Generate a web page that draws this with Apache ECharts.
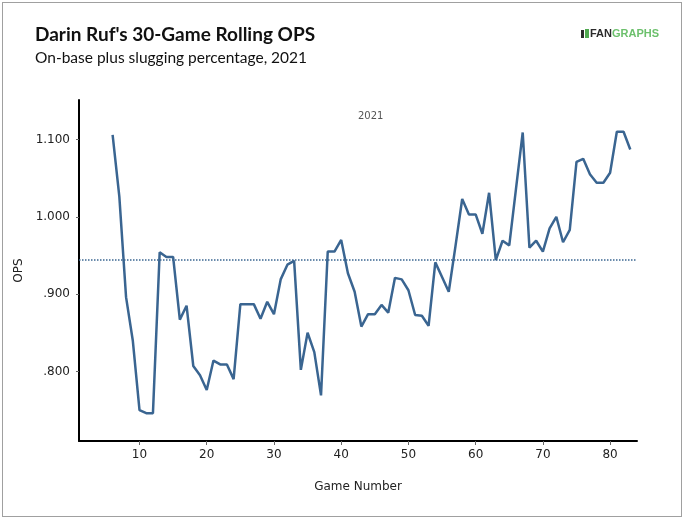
<!DOCTYPE html>
<html>
<head>
<meta charset="utf-8">
<title>Darin Ruf's 30-Game Rolling OPS</title>
<script src="https://cdn.jsdelivr.net/npm/echarts@6/dist/echarts.min.js"></script>
<style>
  html, body { margin: 0; padding: 0; background: #fff; }
  #frame {
    position: absolute; left: 2px; top: 2px; width: 680px; height: 515px;
    border: 1px solid #a0a0a0; box-sizing: border-box;
  }
  #chart { position: absolute; left: 0; top: 0; width: 685px; height: 521px; }
</style>
</head>
<body>
<div id="frame"></div>
<div id="chart"></div>
<script>
// game number of each rolling window (games 6 - 83)
var games = [
  6, 7, 8, 9, 10, 11, 12, 13, 14, 15, 16, 17, 18, 19, 20, 21, 22, 23, 24, 25,
  26, 27, 28, 29, 30, 31, 32, 33, 34, 35, 36, 37, 38, 39, 40, 41, 42, 43, 44, 45,
  46, 47, 48, 49, 50, 51, 52, 53, 54, 55, 56, 57, 58, 59, 60, 61, 62, 63, 64, 65,
  66, 67, 68, 69, 70, 71, 72, 73, 74, 75, 76, 77, 78, 79, 80, 81, 82, 83
];
// 30-game rolling OPS
var ops = [
  1.106, 1.026, 0.896, 0.840, 0.750, 0.746, 0.746, 0.954, 0.948, 0.948,
  0.867, 0.885, 0.807, 0.795, 0.776, 0.814, 0.809, 0.809, 0.790, 0.887,
  0.887, 0.887, 0.868, 0.890, 0.874, 0.919, 0.938, 0.943, 0.802, 0.850,
  0.825, 0.769, 0.955, 0.955, 0.970, 0.927, 0.903, 0.858, 0.874, 0.874,
  0.886, 0.876, 0.921, 0.919, 0.905, 0.873, 0.872, 0.859, 0.941, 0.922,
  0.903, 0.962, 1.023, 1.003, 1.003, 0.978, 1.031, 0.944, 0.969, 0.963,
  1.036, 1.109, 0.960, 0.969, 0.955, 0.985, 1.000, 0.967, 0.983, 1.071,
  1.075, 1.055, 1.044, 1.044, 1.057, 1.110, 1.110, 1.087
];
// season OPS (dotted reference line)
var seasonOps = 0.945;

var yTicks = [0.8, 0.9, 1.0, 1.1];
var xTicks = [10, 20, 30, 40, 50, 60, 70, 80];

var points = games.map(function (g, i) { return [g, ops[i]]; });

// 0.800 -> .800, 1.100 stays
function opsLabel (v) {
  var s = v.toFixed(3);
  return s.charAt(0) === '0' ? s.slice(1) : s;
}

var lineColor = '#3a6591';
var labelFont = 'DejaVu Sans';

var chart = echarts.init(document.getElementById('chart'));

var option = {
  animation: false,
  title: {
    text: "Darin Ruf's 30-Game Rolling OPS",
    subtext: 'On-base plus slugging percentage, 2021',
    left: 30,
    top: 20,
    itemGap: 6,
    textStyle: { fontFamily: 'Lato', fontWeight: 'bold', fontSize: 19, color: '#111' },
    subtextStyle: { fontFamily: 'Lato', fontSize: 15.5, color: '#111' }
  },
  graphic: [
    // little fangraphs mark
    { type: 'rect', left: 581, top: 30, shape: { width: 3, height: 8 }, style: { fill: '#2a2a2a' } },
    { type: 'rect', left: 585, top: 29, shape: { width: 4, height: 9 }, style: { fill: '#4fa84f' } },
    {
      type: 'text',
      left: 590,
      top: 28,
      style: {
        text: '{fan|FAN}{graphs|GRAPHS}',
        rich: {
          fan: { fontFamily: 'Liberation Sans', fontWeight: 'bold', fontSize: 11, fill: '#2b2b2b' },
          graphs: { fontFamily: 'Liberation Sans', fontWeight: 'bold', fontSize: 11, fill: '#6cc06c' }
        }
      }
    },
    {
      type: 'text',
      left: 358,
      top: 111,
      style: { text: '2021', fontFamily: labelFont, fontSize: 10, fill: '#555' }
    }
  ],
  grid: { left: 79, right: 48, top: 100, bottom: 80 },
  xAxis: {
    type: 'value',
    min: 1,
    max: 84,
    name: 'Game Number',
    nameLocation: 'middle',
    nameGap: 40,
    nameTextStyle: { fontFamily: labelFont, fontSize: 12, color: '#222' },
    splitLine: { show: false },
    axisLine: { lineStyle: { color: '#000', width: 2 } },
    axisTick: { show: true, length: 4, lineStyle: { color: '#666' }, customValues: xTicks },
    axisLabel: { fontFamily: labelFont, fontSize: 12, color: '#222', margin: 8, customValues: xTicks }
  },
  yAxis: {
    type: 'value',
    min: 0.71,
    max: 1.151,
    name: 'OPS',
    nameLocation: 'middle',
    nameGap: 46,
    nameRotate: 90,
    nameTextStyle: { fontFamily: labelFont, fontSize: 12, color: '#222' },
    splitLine: { show: false },
    axisLine: { show: true, lineStyle: { color: '#000', width: 2 } },
    axisTick: { show: true, length: 3, lineStyle: { color: '#666' }, customValues: yTicks },
    axisLabel: {
      fontFamily: labelFont, fontSize: 12, color: '#222', margin: 9,
      customValues: yTicks,
      formatter: opsLabel
    }
  },
  series: [
    {
      type: 'line',
      data: points,
      symbol: 'none',
      lineStyle: { color: lineColor, width: 2.5 },
      markLine: {
        silent: true,
        symbol: 'none',
        precision: 3,
        label: { show: false },
        lineStyle: { color: lineColor, type: 'dotted', width: 1.5 },
        data: [{ yAxis: seasonOps }]
      }
    }
  ]
};

chart.setOption(option);
</script>
</body>
</html>
